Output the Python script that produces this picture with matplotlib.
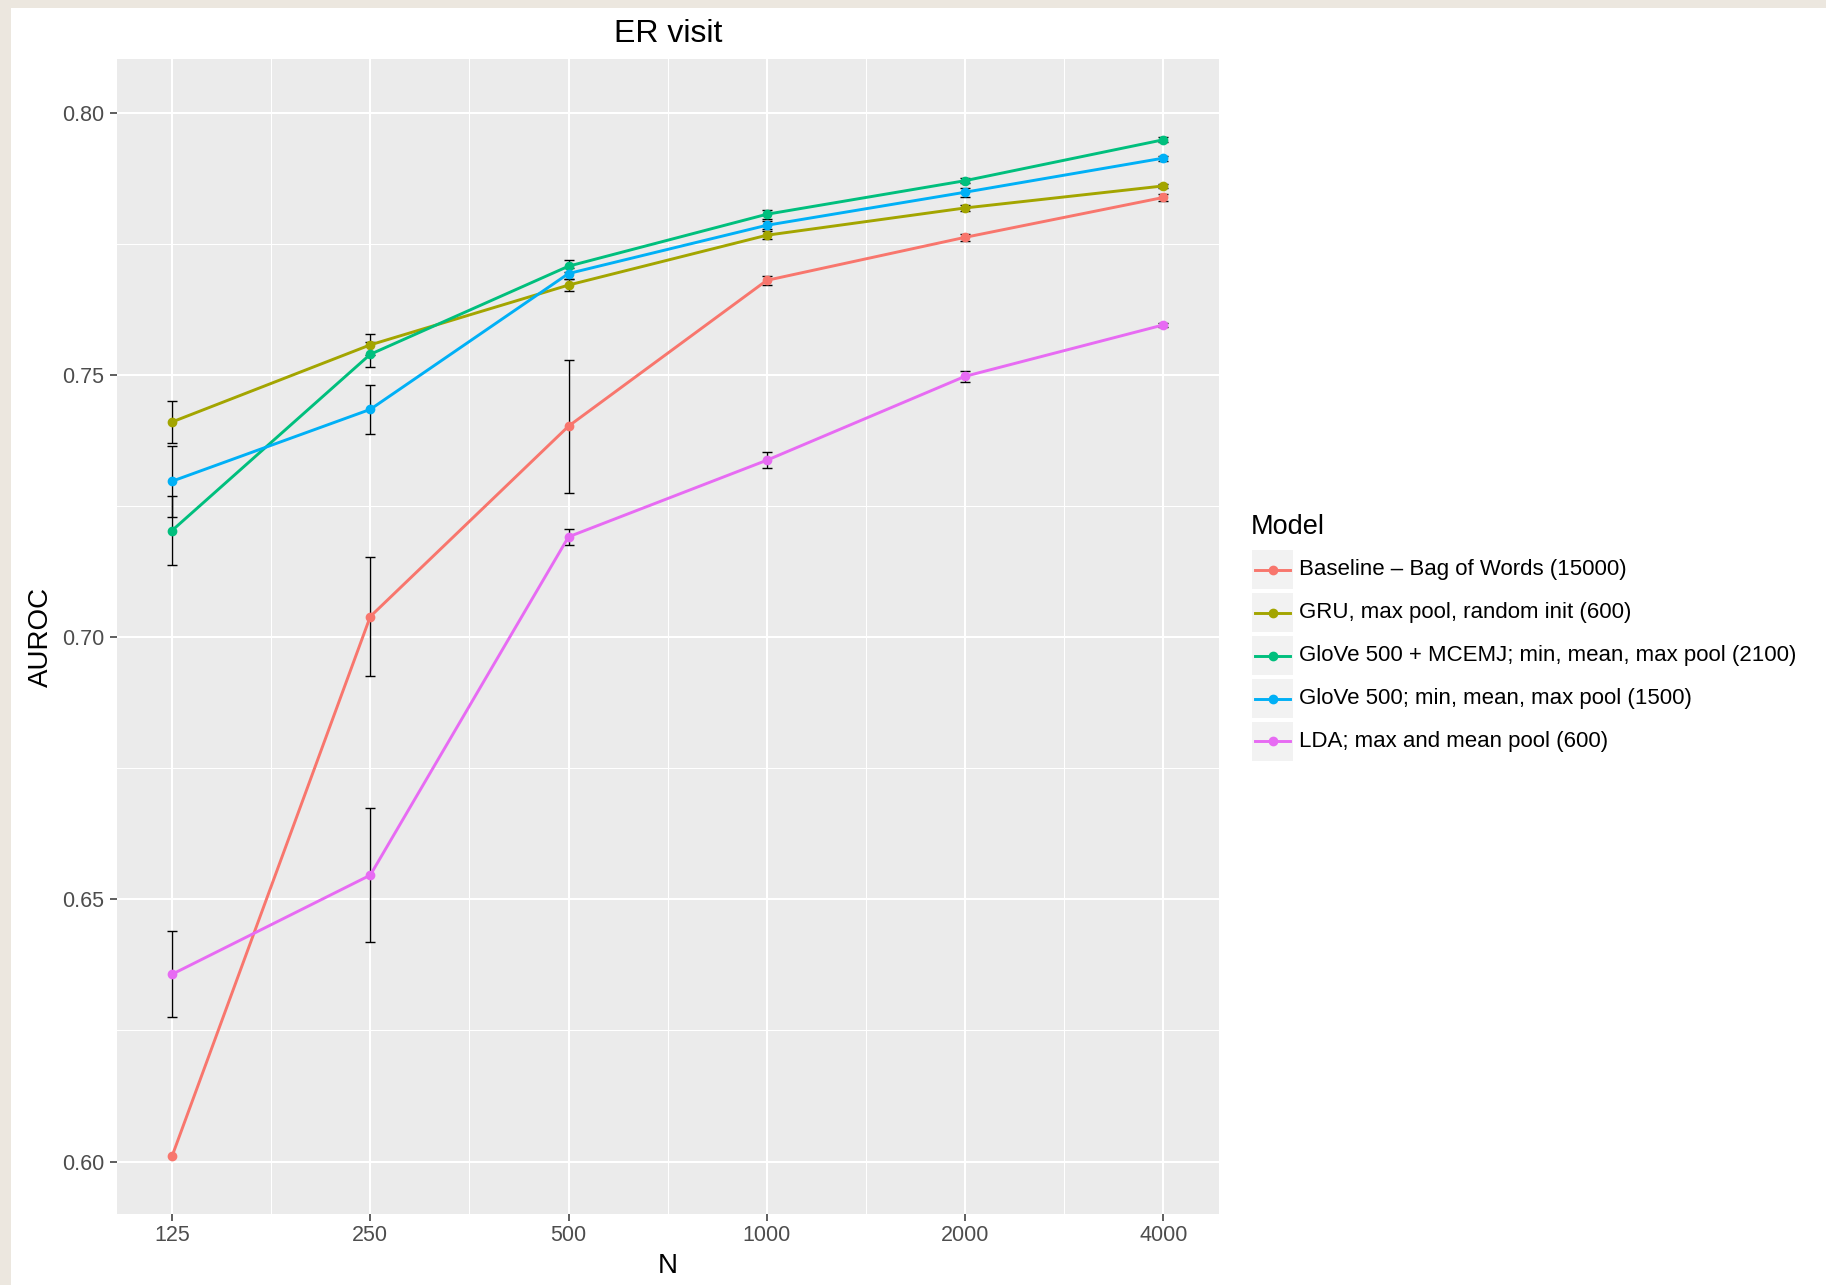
import numpy as np
import matplotlib
matplotlib.use('Agg')
import matplotlib.pyplot as plt
from matplotlib.patches import Rectangle
from matplotlib.lines import Line2D
from matplotlib.ticker import FixedLocator, NullFormatter

plt.rcParams['font.family'] = ['Liberation Sans', 'DejaVu Sans']

# data
n_values = [125, 250, 500, 1000, 2000, 4000]
model_names = [
    "Baseline \u2013 Bag of Words (15000)",
    "GRU, max pool, random init (600)",
    "GloVe 500 + MCEMJ; min, mean, max pool (2100)",
    "GloVe 500; min, mean, max pool (1500)",
    "LDA; max and mean pool (600)",
]
colors = ['#F8766D', '#A3A500', '#00BF7D', '#00B0F6', '#E76BF3']

# nan = no error bar shown at that point
baseline_auc = [0.6010, 0.7039, 0.7402, 0.7680, 0.7762, 0.7838]
baseline_err = [np.nan, 0.0113, 0.0127, 0.0009, 0.0007, 0.0006]
gru_auc = [0.7410, 0.7557, 0.7671, 0.7766, 0.7818, 0.7860]
gru_err = [0.0040, 0.0020, 0.0011, 0.0008, 0.0005, 0.0004]
glove_mcemj_auc = [0.7203, 0.7539, 0.7707, 0.7806, 0.7870, 0.7948]
glove_mcemj_err = [0.0066, 0.0024, 0.0012, 0.0009, 0.0005, 0.0005]
glove_auc = [0.7297, 0.7434, 0.7693, 0.7785, 0.7848, 0.7913]
glove_err = [0.0068, 0.0046, 0.0011, 0.0008, 0.0009, 0.0005]
lda_auc = [0.6357, 0.6546, 0.7191, 0.7337, 0.7497, 0.7595]
lda_err = [0.0082, 0.0128, 0.0015, 0.0015, 0.0011, 0.0004]

all_auc = [baseline_auc, gru_auc, glove_mcemj_auc, glove_auc, lda_auc]
all_err = [baseline_err, gru_err, glove_mcemj_err, glove_err, lda_err]

W, H = 1826, 1285
fig = plt.figure(figsize=(W / 100, H / 100), dpi=100)
fig.patch.set_facecolor('#ece7df')
fig.add_artist(Rectangle((11 / W, 0), 1 - 11 / W, 1 - 8 / H, transform=fig.transFigure,
                         facecolor='white', edgecolor='none', zorder=-1))

ax = fig.add_axes([116.7 / W, 1 - 1214 / H, (1219 - 116.7) / W, (1214 - 59) / H])
ax.set_facecolor('#EBEBEB')
for s in ax.spines.values():
    s.set_visible(False)

ax.set_xscale('log', base=2)
ax.set_xlim(125 * 2 ** -0.279, 4000 * 2 ** 0.281)
ax.set_ylim(0.5900, 0.8102)
ax.xaxis.set_major_locator(FixedLocator(n_values))
ax.set_xticklabels([str(n) for n in n_values])
minor_x = [np.sqrt(a * b) for a, b in zip(n_values[:-1], n_values[1:])]
ax.xaxis.set_minor_locator(FixedLocator(minor_x))
ax.xaxis.set_minor_formatter(NullFormatter())
ax.set_yticks([0.60, 0.65, 0.70, 0.75, 0.80])
ax.set_yticklabels(['0.60', '0.65', '0.70', '0.75', '0.80'])
ax.set_yticks([0.625, 0.675, 0.725, 0.775], minor=True)

ax.set_axisbelow(True)
ax.grid(which='major', color='white', lw=1.45)
ax.grid(which='minor', color='white', lw=0.72)
ax.tick_params(which='minor', length=0)
ax.tick_params(which='major', length=4.7, width=1.1, color='#333333',
               labelcolor='#4D4D4D', labelsize=15.5)
ax.tick_params(axis='y', pad=4.5)
ax.tick_params(axis='x', pad=3.5)

for vals, errs in zip(all_auc, all_err):
    ax.errorbar(n_values, vals, yerr=errs, fmt='none', ecolor='black',
                elinewidth=1.0, capsize=3.9, capthick=1.0, zorder=2)
for vals, col in zip(all_auc, colors):
    ax.plot(n_values, vals, color=col, lw=2.1, zorder=3)
for vals, col in zip(all_auc, colors):
    ax.plot(n_values, vals, ls='none', marker='o', ms=6.0, color=col, zorder=4)

# titles
fig.text(668 / W, 1 - 34.5 / H, 'ER visit', fontsize=23, ha='center', va='center')
fig.text(40.5 / W, 1 - 636.5 / H, 'AUROC', fontsize=20, rotation=90, ha='center', va='center')
fig.text(668 / W, 1 - 1266 / H, 'N', fontsize=20, ha='center', va='center')

# legend drawn by hand to get ggplot style key boxes
fig.text(1251 / W, 1 - 527 / H, 'Model', fontsize=19.5, ha='left', va='center')
rows_y = [569.5, 612.5, 655.5, 698.5, 741.5]
for name, col, ry in zip(model_names, colors, rows_y):
    fig.add_artist(Rectangle((1252 / W, 1 - (ry + 19.6) / H), 41 / W, 39.3 / H,
                             transform=fig.transFigure, facecolor='#F2F2F2', edgecolor='none'))
    fig.add_artist(Line2D([1255 / W, 1290 / W], [1 - ry / H] * 2, color=col, lw=2.1,
                          transform=fig.transFigure))
    fig.add_artist(Line2D([1272.5 / W], [1 - ry / H], ls='none', marker='o', ms=6.0, color=col,
                          transform=fig.transFigure))
    fig.text(1299 / W, 1 - ry / H, name, fontsize=16, ha='left', va='center')

fig.savefig('out.png', dpi=100, facecolor=fig.get_facecolor())
